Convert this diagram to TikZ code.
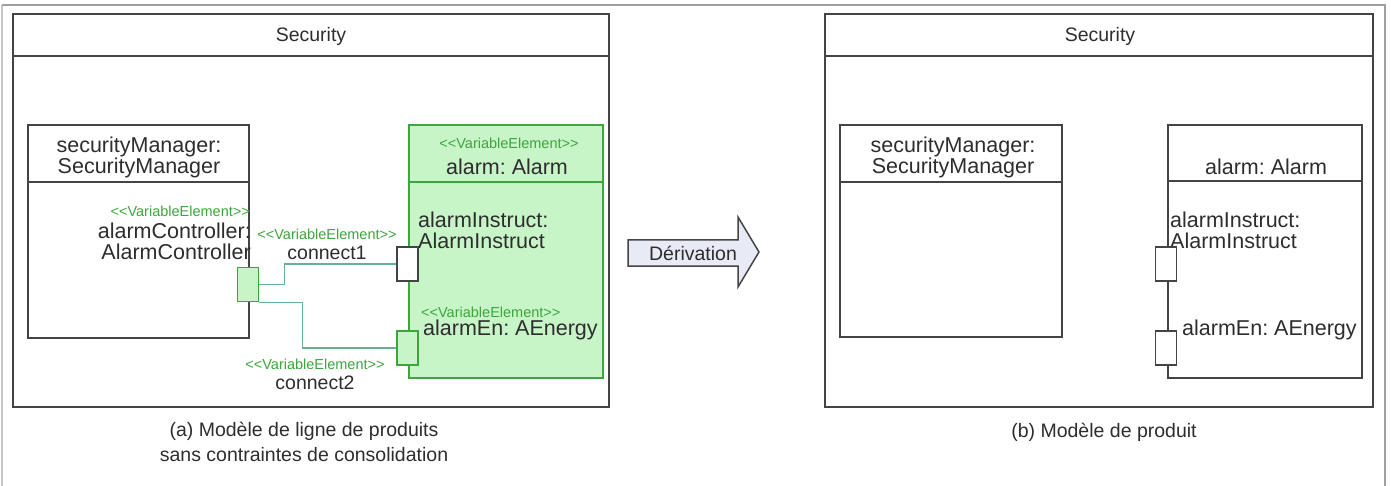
\documentclass[tikz,border=0pt]{standalone}
\usepackage{fontspec}
\setmainfont{Liberation Sans}
\usetikzlibrary{positioning,calc}

\definecolor{boxgray}{RGB}{68,68,68}
\definecolor{textgray}{RGB}{45,45,45}
\definecolor{vargreen}{RGB}{60,165,60}
\definecolor{varfill}{RGB}{200,245,200}
\definecolor{linkgreen}{RGB}{105,175,145}
\definecolor{arrowfill}{RGB}{232,234,246}

\newcommand{\namefont}{\fontsize{21.5}{21}\selectfont}
\newcommand{\stereofont}{\fontsize{14.5}{15}\selectfont}
\newcommand{\titlefont}{\fontsize{19.5}{25}\selectfont}
\newcommand{\varel}{<{}<VariableElement>{}>}

\tikzset{
  frame/.style={draw=boxgray, line width=2pt},
  part/.style={draw=boxgray, line width=1.6pt},
  varpart/.style={draw=vargreen, fill=varfill, line width=1.6pt},
  port/.style={draw=boxgray, fill=white, line width=1.6pt, minimum width=21pt, minimum height=34pt, inner sep=0pt},
  varport/.style={port, draw=vargreen, fill=varfill},
  txt/.style={text=textgray, inner sep=0pt, font=\namefont},
  stereo/.style={text=vargreen, inner sep=0pt, font=\stereofont},
  caption/.style={text=textgray, inner sep=0pt, font=\titlefont, align=center},
  link/.style={draw=linkgreen, line width=1.5pt},
}

\begin{document}
\frenchspacing
\begin{tikzpicture}[x=1pt, y=-1pt]
    \useasboundingbox (0,0) rectangle (1391,486);
    % outer frame
    \draw[gray!45, line width=1.5pt] (2,486) -- (2,5);
    \draw[gray!75, line width=1.5pt] (2,5) -- (1385,5) -- (1385,486);

    % (a) product line model
    \draw[frame] (13,14) rectangle (609,407);
    \draw[frame] (13,56) -- (609,56);
    \node[caption] (secA) at (311,36) {Security};

    \draw[part] (28,125) rectangle (249,338);
    \draw[part] (28,182) -- (249,182);
    \node[txt, align=center] (mgrA) at (139,157) {securityManager:\\SecurityManager};
    \node[stereo, anchor=east] (ctrlSt) at (250,211) {\varel};
    \node[txt, anchor=east, align=right] (ctrlA) at (251,241) {alarmController:\\AlarmController};

    \draw[varpart] (409,125) rectangle (603,378);
    \draw[vargreen, line width=1.6pt] (409,182) -- (603,182);
    \node[stereo] (alarmSt) at (509,143) {\varel};
    \node[txt] (alarmA) at (507,167) {alarm: Alarm};
    \node[txt, anchor=west, align=left] (instrA) at (418,230) {alarmInstruct:\\AlarmInstruct};
    \node[stereo, anchor=west] (enSt) at (421,312) {\varel};
    \node[txt, anchor=west] (enA) at (423,330) {alarmEn: AEnergy};

    % ports
    \node[varport] (ctrlP) at (248,284.5) {};
    \node[port] (instrP) at (407.5,264) {};
    \node[varport] (enP) at (407.5,348) {};

    % connectors
    \draw[link] (ctrlP.east) -- ++(25,0) |- (instrP.west);
    \draw[link] (ctrlP.south east) -- ++(43,0) |- (enP.west);
    \node[stereo] (c1St) at (327,234) {\varel};
    \node[caption] (c1) at (327,253) {connect1};
    \node[stereo] (c2St) at (315,364) {\varel};
    \node[caption] (c2) at (315,383) {connect2};

    \node[caption] (capA) at (304,442) {(a) Modèle de ligne de produits\\sans contraintes de consolidation};

    % derivation
    \draw[fill=arrowfill, draw=boxgray, line width=1.5pt]
        (628,240) -- (738,240) -- (738,217) -- (759,252) -- (738,287) -- (738,266) -- (628,266) -- cycle;
    \node[caption] (deriv) at (693,253) {Dérivation};

    % (b) product model
    \draw[frame] (825,14) rectangle (1373,407);
    \draw[frame] (825,56) -- (1373,56);
    \node[caption] (secB) at (1100,36) {Security};

    \draw[part] (840,125) rectangle (1062,337);
    \draw[part] (840,182) -- (1062,182);
    \node[txt, align=center] (mgrB) at (953,157) {securityManager:\\SecurityManager};

    \draw[part] (1168,125) rectangle (1362,378);
    \draw[part] (1168,181) -- (1362,181);
    \node[txt] (alarmB) at (1266,167) {alarm: Alarm};
    \node[txt, anchor=west, align=left] (instrB) at (1170,230) {alarmInstruct:\\AlarmInstruct};
    \node[txt, anchor=west] (enB) at (1182,330) {alarmEn: AEnergy};
    \node[port] (instrQ) at (1166,264) {};
    \node[port] (enQ) at (1166,348) {};

    \node[caption] (capB) at (1104,432) {(b) Modèle de produit};
\end{tikzpicture}
\end{document}
